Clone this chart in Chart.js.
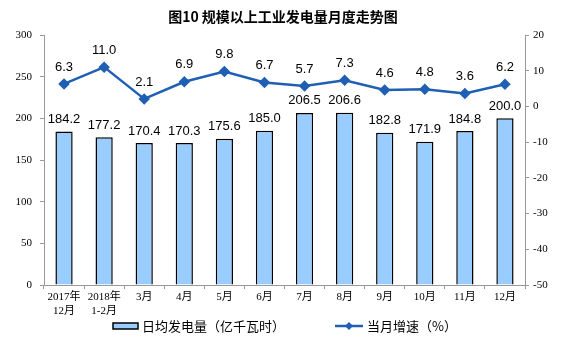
<!DOCTYPE html>
<html>
<head>
<meta charset="utf-8">
<script src="https://cdn.jsdelivr.net/npm/chart.js@4"></script>
<style>
  html, body { margin: 0; padding: 0; background: #fff; }
  #wrap { width: 563px; height: 364px; position: relative; }
</style>
</head>
<body>
<div id="wrap"><canvas id="c"></canvas></div>
<script>
// data
const labels = [['2017年', '12月'], ['2018年', '1-2月'], '3月', '4月', '5月', '6月', '7月', '8月', '9月', '10月', '11月', '12月'];
const daily = [184.2, 177.2, 170.4, 170.3, 175.6, 185.0, 206.5, 206.6, 182.8, 171.9, 184.8, 200.0];
const growth = [6.3, 11.0, 2.1, 6.9, 9.8, 6.7, 5.7, 7.3, 4.6, 4.8, 3.6, 6.2];

const TITLE = '图10 规模以上工业发电量月度走势图';
const BAR_NAME = '日均发电量（亿千瓦时）';
const LINE_NAME = '当月增速（%）';

const BAR_FILL = '#99ccff';
const LINE = '#1f5fb4';
const AXIS = '#999999';
const TICK_FONT = { family: "'Liberation Serif', 'Noto Sans CJK SC', serif", size: 11 };
const LABEL_FONT = "13px 'Liberation Sans', Arial, sans-serif";

// value labels + title + legend, drawn straight on the canvas
const extras = {
    id: 'extras',
    afterDatasetsDraw(chart) {
        const ctx = chart.ctx;
        ctx.save();
        ctx.fillStyle = '#000';
        ctx.font = LABEL_FONT;
        ctx.textAlign = 'center';
        ctx.textBaseline = 'middle';
        // dataset 0 = line, dataset 1 = bars
        chart.getDatasetMeta(1).data.forEach((el, i) => {
            ctx.fillText(daily[i].toFixed(1), el.x, el.y - 12);
        });
        chart.getDatasetMeta(0).data.forEach((el, i) => {
            ctx.fillText(growth[i].toFixed(1), el.x, el.y - 17);
        });

        // title
        ctx.font = "bold 14px 'Noto Sans CJK SC', sans-serif";
        ctx.fillText(TITLE, 283, 17);

        // legend
        ctx.font = "13px 'Noto Sans CJK SC', sans-serif";
        ctx.textAlign = 'left';
        ctx.fillStyle = BAR_FILL;
        ctx.strokeStyle = '#000';
        ctx.lineWidth = 1.5;
        ctx.fillRect(113, 323, 25, 6);
        ctx.strokeRect(113, 323, 25, 6);
        ctx.fillStyle = '#000';
        ctx.fillText(BAR_NAME, 142, 326);

        ctx.strokeStyle = LINE;
        ctx.lineWidth = 2.5;
        ctx.beginPath();
        ctx.moveTo(335, 326);
        ctx.lineTo(363, 326);
        ctx.stroke();
        ctx.fillStyle = LINE;
        ctx.beginPath();
        ctx.moveTo(349, 322); ctx.lineTo(353, 326); ctx.lineTo(349, 330); ctx.lineTo(345, 326);
        ctx.closePath();
        ctx.fill();
        ctx.fillStyle = '#000';
        ctx.fillText(LINE_NAME, 367, 326);
        ctx.restore();
    }
};

new Chart(document.getElementById('c'), {
    data: {
        labels,
        datasets: [
            {
                type: 'line', label: LINE_NAME, data: growth, yAxisID: 'y2', order: 0,
                borderColor: LINE, backgroundColor: LINE, borderWidth: 2.5,
                pointStyle: 'rectRot', pointRadius: 4, pointHoverRadius: 4, tension: 0
            },
            {
                type: 'bar', label: BAR_NAME, data: daily, yAxisID: 'y', order: 1,
                backgroundColor: BAR_FILL, borderColor: '#000', borderWidth: 1.5,
                barPercentage: 0.43, categoryPercentage: 1
            }
        ]
    },
    options: {
        responsive: true, maintainAspectRatio: false, animation: false,
        layout: { padding: { top: 35, bottom: 39, left: 0, right: 0 } },
        plugins: { legend: { display: false }, title: { display: false }, tooltip: { enabled: false } },
        scales: {
            x: {
                grid: { display: true, drawOnChartArea: false, tickLength: 4, color: AXIS },
                border: { color: AXIS },
                ticks: { color: '#000', font: TICK_FONT, maxRotation: 0, autoSkip: false, padding: 2 },
                afterFit: s => { s.height = 40; }
            },
            y: {
                position: 'left', min: 0, max: 300,
                grid: { display: true, drawOnChartArea: false, tickLength: 4, color: AXIS },
                border: { color: AXIS },
                ticks: { stepSize: 50, color: '#000', font: TICK_FONT, padding: 8 },
                afterFit: s => { s.width = 44; }
            },
            y2: {
                position: 'right', min: -50, max: 20,
                grid: { display: true, drawOnChartArea: false, tickLength: 4, color: AXIS },
                border: { color: AXIS },
                ticks: { stepSize: 10, color: '#000', font: TICK_FONT, padding: 4 },
                afterFit: s => { s.width = 38; }
            }
        }
    },
    plugins: [extras]
});
</script>
</body>
</html>
